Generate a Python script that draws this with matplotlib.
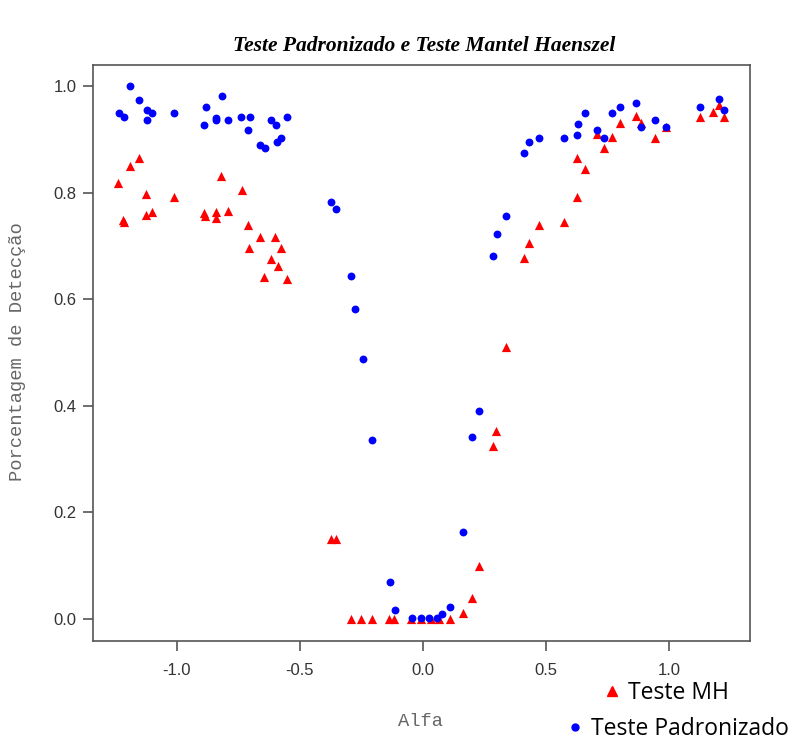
import matplotlib
matplotlib.use('Agg')
import matplotlib.pyplot as plt
from matplotlib.lines import Line2D

# Teste Padronizado (blue dots)
alfa_pad = [-1.235, -1.215, -1.191, -1.154, -1.120, -1.100, -1.120, -1.013,
            -0.889, -0.882, -0.840, -0.840, -0.817, -0.791, -0.737, -0.703,
            -0.710, -0.663, -0.642, -0.619, -0.598, -0.591, -0.575, -0.551,
            -0.373, -0.353, -0.292, -0.276, -0.242, -0.205, -0.133, -0.113,
            -0.046, -0.009, 0.024, 0.055, 0.076, 0.108, 0.163, 0.199, 0.226,
            0.283, 0.300, 0.338, 0.411, 0.432, 0.472, 0.573, 0.626, 0.630,
            0.657, 0.707, 0.735, 0.769, 0.799, 0.866, 0.884, 0.944, 0.987,
            1.124, 1.203, 1.223]
det_pad = [0.950, 0.942, 1.000, 0.975, 0.956, 0.950, 0.936, 0.950,
           0.928, 0.962, 0.940, 0.936, 0.982, 0.936, 0.942, 0.942,
           0.917, 0.890, 0.884, 0.937, 0.928, 0.896, 0.903, 0.942,
           0.783, 0.769, 0.643, 0.582, 0.488, 0.335, 0.069, 0.017,
           0.001, 0.001, 0.001, 0.001, 0.009, 0.022, 0.162, 0.341, 0.390,
           0.682, 0.722, 0.757, 0.875, 0.896, 0.903, 0.903, 0.909, 0.930,
           0.950, 0.917, 0.903, 0.950, 0.962, 0.969, 0.923, 0.936, 0.923,
           0.962, 0.977, 0.956]

# Teste MH (red triangles)
alfa_mh = [-1.239, -1.219, -1.215, -1.191, -1.154, -1.123, -1.123, -1.100,
           -1.013, -0.889, -0.885, -0.840, -0.840, -0.820, -0.791, -0.735,
           -0.712, -0.706, -0.663, -0.599, -0.645, -0.619, -0.589, -0.575,
           -0.551, -0.373, -0.353, -0.292, -0.252, -0.205, -0.137, -0.117,
           -0.050, -0.009, 0.031, 0.065, 0.109, 0.162, 0.199, 0.226, 0.284,
           0.296, 0.339, 0.411, 0.432, 0.472, 0.573, 0.627, 0.657, 0.626,
           0.707, 0.734, 0.769, 0.799, 0.866, 0.884, 0.944, 0.987, 1.124,
           1.176, 1.203, 1.223]
det_mh = [0.819, 0.749, 0.745, 0.851, 0.866, 0.798, 0.759, 0.764,
          0.792, 0.762, 0.757, 0.764, 0.752, 0.832, 0.765, 0.806,
          0.739, 0.697, 0.716, 0.716, 0.642, 0.676, 0.662, 0.697,
          0.638, 0.150, 0.150, 0.0, 0.0, 0.0, 0.0, 0.0,
          0.0, 0.0, 0.0, 0.0, 0.0, 0.011, 0.039, 0.098, 0.324,
          0.352, 0.511, 0.678, 0.706, 0.739, 0.745, 0.792, 0.845, 0.866,
          0.911, 0.885, 0.905, 0.931, 0.945, 0.931, 0.903, 0.923, 0.943,
          0.952, 0.965, 0.943]

xticks = [-1.0, -0.5, 0.0, 0.5, 1.0]
yticks = [0.0, 0.2, 0.4, 0.6, 0.8, 1.0]

fig = plt.figure(figsize=(7.97, 7.44), dpi=100)
ax = fig.add_axes([93/797, 1-641/744, (750-93)/797, (641-65)/744])

ax.scatter(alfa_mh, det_mh, marker='^', s=44, color='#ff0000', linewidths=0, zorder=3)
ax.scatter(alfa_pad, det_pad, marker='o', s=32, color='#0000ff', linewidths=0, zorder=4)

ax.set_xlim(-1.34, 1.328)
ax.set_ylim(-0.042, 1.04)
ax.set_xticks(xticks)
ax.set_yticks(yticks)
ax.set_xticklabels(['%.1f' % t for t in xticks], family='Liberation Sans')
ax.set_yticklabels(['%.1f' % t for t in yticks], family='Liberation Sans')
ax.tick_params(direction='out', length=7, width=1.2, color='#555555',
               labelcolor='#333333', labelsize=12)
ax.tick_params(axis='x', pad=9)
ax.tick_params(axis='y', pad=5)
for side in ax.spines.values():
    side.set_color('#555555')
    side.set_linewidth(1.2)

# axis labels in R's monospace style, placed like the picture
fig.text(421/797, 1-722/744, 'Alfa', family='Liberation Mono', fontsize=13.5,
         color='#666666', ha='center', va='center')
fig.text(18/797, 1-352/744, 'Porcentagem de Detecção', family='Liberation Mono',
         fontsize=13.5, color='#666666', ha='center', va='center', rotation=90)
fig.text(424/797, 1-46/744, 'Teste Padronizado e Teste Mantel Haenszel',
         family='Liberation Serif', style='italic', weight='bold', fontsize=15.5,
         ha='center', va='center')

# legend entries placed below the plot, as in the picture
h_mh = Line2D([], [], marker='^', color='#ff0000', linestyle='none', markersize=7)
h_pad = Line2D([], [], marker='o', color='#0000ff', linestyle='none', markersize=5)
fig.legend([h_mh], ['Teste MH'], loc='center left', bbox_to_anchor=(603/797, 1-693/744),
           frameon=False, prop={'family': 'Open Sans', 'size': 16.5},
           handlelength=0.8, handletextpad=0.3, borderaxespad=0, borderpad=0)
fig.legend([h_pad], ['Teste Padronizado'], loc='center left', bbox_to_anchor=(566/797, 1-729/744),
           frameon=False, prop={'family': 'Open Sans', 'size': 16.5},
           handlelength=0.8, handletextpad=0.3, borderaxespad=0, borderpad=0)

fig.savefig('out.png', dpi=100)
